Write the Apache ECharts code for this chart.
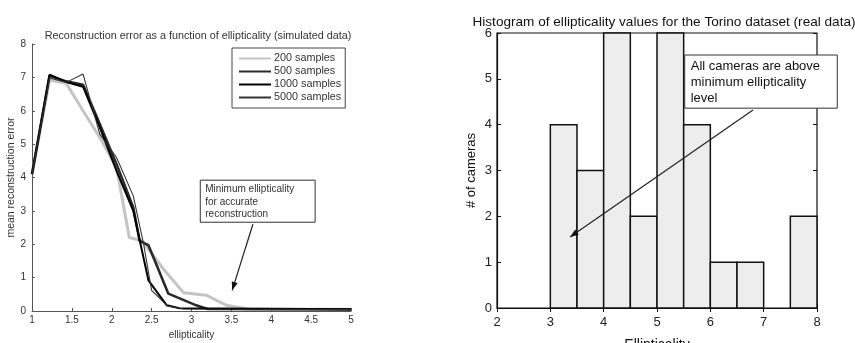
<!DOCTYPE html>
<html>
<head>
<meta charset="utf-8">
<script src="https://cdn.jsdelivr.net/npm/echarts@6/dist/echarts.min.js"></script>
<style>
  html, body { margin: 0; padding: 0; background: #fff; }
  #chart { width: 855px; height: 343px; }
</style>
</head>
<body>
<div id="chart"></div>
<script>
// ---- Reconstruction error vs ellipticality (simulated) ----
const sampleLabels = ['200 samples', '500 samples', '1000 samples', '5000 samples'];
const err200 = [[1, 4.1], [1.22, 6.92], [1.43, 6.82], [1.64, 6.0], [1.85, 5.2], [2.06, 4.3], [2.22, 2.2], [2.38, 2.1], [2.65, 1.25], [2.9, 0.55], [3.19, 0.47], [3.44, 0.17], [3.7, 0.06], [5, 0.05]];
const err500 = [[1, 4.1], [1.22, 7.05], [1.43, 6.88], [1.64, 6.78], [1.85, 5.6], [2.06, 4.4], [2.27, 3.1], [2.35, 2.1], [2.46, 1.97], [2.71, 0.52], [3.06, 0.17], [3.2, 0.06], [5, 0.05]];
const err1000 = [[1, 4.1], [1.22, 7.08], [1.43, 6.86], [1.64, 6.72], [1.85, 5.5], [2.06, 4.2], [2.27, 3.0], [2.46, 0.92], [2.69, 0.17], [2.85, 0.08], [5, 0.05]];
const err5000 = [[1, 4.1], [1.22, 6.98], [1.43, 6.85], [1.64, 7.1], [1.85, 5.3], [2.06, 4.6], [2.27, 3.45], [2.4, 2.0], [2.5, 0.62], [2.7, 0.15], [2.9, 0.06], [5, 0.05]];

// ---- Histogram of ellipticality (Torino dataset) ----
const binStarts = [3, 3.5, 4, 4.5, 5, 5.5, 6, 6.5, 7, 7.5];
const cameraCounts = [4, 3, 6, 2, 6, 4, 1, 1, 0, 2];
const binWidth = 0.5;

// annotation anchors in data units
const leftNote = { lines: ['Minimum ellipticality', 'for accurate', 'reconstruction'], boxTL: [3.11, 3.92], boxBR: [4.55, 2.66], from: [3.77, 2.6], to: [3.51, 0.62] };
const rightNote = { lines: ['All cameras are above', 'minimum ellipticality', 'level'], boxTL: [5.52, 5.52], boxBR: [8.38, 4.36], from: [6.8, 4.32], to: [3.37, 1.55] };

const FONT = 'Liberation Sans, Arial, sans-serif';
const chart = echarts.init(document.getElementById('chart'), null, { renderer: 'canvas' });

const leftLabel = { color: '#333', fontSize: 10, fontFamily: FONT };
const rightLabel = { color: '#222', fontSize: 13, fontFamily: FONT };

const option = {
  backgroundColor: '#fff',
  animation: false,
  title: [
    { text: 'Reconstruction error as a function of ellipticality (simulated data)', left: 193, top: 26, textAlign: 'center',
      textStyle: { fontSize: 10.8, fontWeight: 'normal', color: '#333', fontFamily: FONT } },
    { text: 'Histogram of ellipticality values for the Torino dataset (real data)', left: 659, top: 10, textAlign: 'center',
      textStyle: { fontSize: 13.6, fontWeight: 'normal', color: '#111', fontFamily: FONT } }
  ],
  legend: {
    data: sampleLabels,
    orient: 'vertical',
    left: 232, top: 48,
    itemWidth: 32, itemHeight: 8, itemGap: 2,
    padding: [5, 4, 5, 6],
    borderColor: '#444', borderWidth: 1, backgroundColor: '#fff',
    itemStyle: { opacity: 0 },
    textStyle: { fontSize: 10.8, color: '#333', fontFamily: FONT, padding: [0, 0, 0, -2] }
  },
  grid: [
    { left: 32, right: 504, top: 44, bottom: 32, outerBoundsMode: 'none' },
    { left: 497, right: 38, top: 33, bottom: 35, outerBoundsMode: 'none',
      show: true, borderColor: '#111', borderWidth: 1.2, backgroundColor: 'transparent' }
  ],
  xAxis: [
    { type: 'value', gridIndex: 0, min: 1, max: 5, interval: 0.5,
      name: 'ellipticality', nameLocation: 'middle', nameGap: 15, nameTextStyle: { fontSize: 10, color: '#333', fontFamily: FONT },
      axisLine: { lineStyle: { color: '#555', width: 1 } }, axisTick: { inside: true, length: 3, lineStyle: { color: '#555' } },
      axisLabel: Object.assign({ margin: 4 }, leftLabel), splitLine: { show: false } },
    { type: 'value', gridIndex: 1, min: 2, max: 8, interval: 1,
      name: 'Ellipticality', nameLocation: 'middle', nameGap: 30, nameTextStyle: { fontSize: 14, color: '#111', fontFamily: FONT },
      axisLine: { lineStyle: { color: '#111', width: 1.2 } }, axisTick: { inside: true, length: 4, lineStyle: { color: '#111' } },
      axisLabel: Object.assign({ margin: 8 }, rightLabel), splitLine: { show: false } },
    { type: 'value', gridIndex: 1, min: 2, max: 8, interval: 1, position: 'top',
      axisLine: { show: false }, axisTick: { inside: true, length: 4, lineStyle: { color: '#111' } },
      axisLabel: { show: false }, splitLine: { show: false } }
  ],
  yAxis: [
    { type: 'value', gridIndex: 0, min: 0, max: 8, interval: 1,
      name: 'mean reconstruction error', nameLocation: 'middle', nameGap: 15, nameTextStyle: { fontSize: 10.5, color: '#333', fontFamily: FONT },
      axisLine: { show: true, lineStyle: { color: '#555', width: 1 } }, axisTick: { show: true, inside: true, length: 3, lineStyle: { color: '#555' } },
      axisLabel: Object.assign({ margin: 6 }, leftLabel), splitLine: { show: false } },
    { type: 'value', gridIndex: 1, min: 0, max: 6, interval: 1,
      name: '# of cameras', nameLocation: 'middle', nameGap: 19, nameTextStyle: { fontSize: 13, color: '#111', fontFamily: FONT },
      axisLine: { show: true, lineStyle: { color: '#111', width: 1.2 } }, axisTick: { show: true, inside: true, length: 4, lineStyle: { color: '#111' } },
      axisLabel: Object.assign({ margin: 5 }, rightLabel), splitLine: { show: false } },
    { type: 'value', gridIndex: 1, min: 0, max: 6, interval: 1, position: 'right',
      axisLine: { show: false }, axisTick: { show: true, inside: true, length: 4, lineStyle: { color: '#111' } },
      axisLabel: { show: false }, splitLine: { show: false } }
  ],
  series: [
    { name: sampleLabels[0], type: 'line', xAxisIndex: 0, yAxisIndex: 0, data: err200, symbol: 'none',
      lineStyle: { color: '#c4c4c4', width: 3 }, itemStyle: { color: '#c4c4c4' }, z: 2 },
    { name: sampleLabels[1], type: 'line', xAxisIndex: 0, yAxisIndex: 0, data: err500, symbol: 'none',
      lineStyle: { color: '#2a2a2a', width: 2.6 }, itemStyle: { color: '#2a2a2a' }, z: 3 },
    { name: sampleLabels[2], type: 'line', xAxisIndex: 0, yAxisIndex: 0, data: err1000, symbol: 'none',
      lineStyle: { color: '#000', width: 2 }, itemStyle: { color: '#000' }, z: 4 },
    { name: sampleLabels[3], type: 'line', xAxisIndex: 0, yAxisIndex: 0, data: err5000, symbol: 'none',
      lineStyle: { color: '#333', width: 1.1 }, itemStyle: { color: '#333' }, z: 5 },
    { name: 'cameras', type: 'custom', xAxisIndex: 1, yAxisIndex: 1,
      data: binStarts.map((b, i) => [b, cameraCounts[i]]),
      renderItem: function (params, api) {
        const x0 = api.value(0), h = api.value(1);
        if (!h) return null;
        const tl = api.coord([x0, h]);
        const br = api.coord([x0 + binWidth, 0]);
        return { type: 'rect',
          shape: { x: tl[0], y: tl[1], width: br[0] - tl[0], height: br[1] - tl[1] },
          style: { fill: '#ededed', stroke: '#111', lineWidth: 1.5 } };
      }, z: 2 }
  ]
};
chart.setOption(option);

// annotation boxes and arrows, placed from data coordinates
function arrowHead(p, q, size) {
  const a = Math.atan2(q[1] - p[1], q[0] - p[0]);
  const s = 0.35;
  return [q,
    [q[0] - size * Math.cos(a - s), q[1] - size * Math.sin(a - s)],
    [q[0] - size * Math.cos(a + s), q[1] - size * Math.sin(a + s)]];
}
function note(n, grid, fontSize, lineH, padX, padY, color) {
  const tl = chart.convertToPixel({ gridIndex: grid }, n.boxTL);
  const br = chart.convertToPixel({ gridIndex: grid }, n.boxBR);
  const p = chart.convertToPixel({ gridIndex: grid }, n.from);
  const q = chart.convertToPixel({ gridIndex: grid }, n.to);
  return [
    { type: 'rect', shape: { x: tl[0], y: tl[1], width: br[0] - tl[0], height: br[1] - tl[1] },
      style: { fill: '#fff', stroke: '#333', lineWidth: 1 }, z: 20 },
    { type: 'text', x: tl[0] + padX, y: tl[1] + padY,
      style: { text: n.lines.join('\n'), font: fontSize + 'px ' + FONT, fill: color, lineHeight: lineH }, z: 21 },
    { type: 'line', shape: { x1: p[0], y1: p[1], x2: q[0], y2: q[1] }, style: { stroke: '#222', lineWidth: 1.2 }, z: 20 },
    { type: 'polygon', shape: { points: arrowHead(p, q, 9) }, style: { fill: '#111' }, z: 20 }
  ];
}
chart.setOption({
  graphic: [].concat(
    note(leftNote, 0, 10, 12.5, 5, 3, '#333'),
    note(rightNote, 1, 13, 16, 6, 3, '#111')
  )
});
</script>
</body>
</html>
